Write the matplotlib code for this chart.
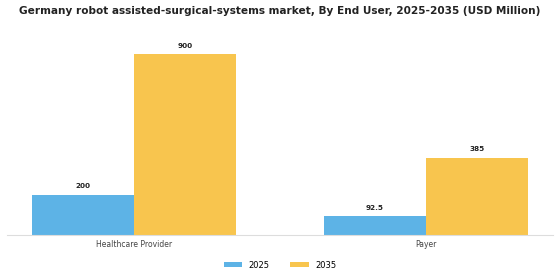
import matplotlib
matplotlib.use("Agg")
import matplotlib.pyplot as plt
import numpy as np

categories = ["Healthcare Provider", "Payer"]
years = ["2025", "2035"]
values_2025 = [200, 92.5]
values_2035 = [900, 385]
labels_2025 = ["200", "92.5"]
labels_2035 = ["900", "385"]
colors = ["#5DB3E6", "#F8C54E"]

fig = plt.figure(figsize=(5.6, 2.8), dpi=100)
ax = fig.add_axes([0.0125, 0.161, 0.975, 0.71])
x = np.arange(len(categories))
w = 0.35
b1 = ax.bar(x - w/2, values_2025, w, color=colors[0], label=years[0])
b2 = ax.bar(x + w/2, values_2035, w, color=colors[1], label=years[1])
for bars, labs in ((b1, labels_2025), (b2, labels_2035)):
    for r, t in zip(bars, labs):
        ax.annotate(t, (r.get_x() + r.get_width()/2, r.get_height()),
                    xytext=(0, 4), textcoords="offset points",
                    ha="center", va="bottom", fontsize=5.2, fontweight="bold", color="#222222")
ax.set_xlim(-0.435, 1.435)
ax.set_ylim(0, 990)
ax.set_xticks(x)
ax.set_xticklabels(categories, fontsize=5.5, color="#444444")
ax.tick_params(axis="x", length=0, pad=4)
ax.set_yticks([])
for s in ["top", "right", "left"]:
    ax.spines[s].set_visible(False)
ax.spines["bottom"].set_color("#dddddd")
ax.spines["bottom"].set_linewidth(0.8)
fig.suptitle("Germany robot assisted-surgical-systems market, By End User, 2025-2035 (USD Million)",
             fontsize=7.6, fontweight="bold", y=0.98, color="#222222")
fig.legend(loc="lower center", ncol=2, bbox_to_anchor=(0.5, 0.01), frameon=False,
           fontsize=6, handlelength=2.2, handleheight=0.5, columnspacing=2.5)
fig.savefig("out.png", dpi=100)
